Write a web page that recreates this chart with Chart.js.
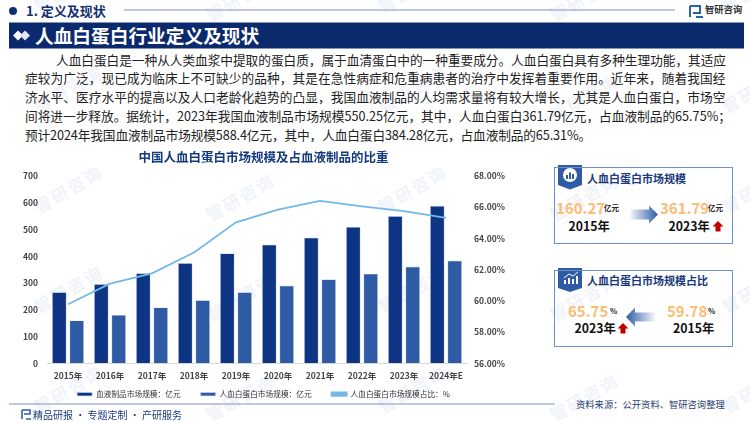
<!DOCTYPE html>
<html lang="zh"><head><meta charset="utf-8">
<script src="https://cdn.jsdelivr.net/npm/chart.js@4"></script>
<style>
html,body{margin:0;padding:0;background:#fff;}
body{width:750px;height:421px;position:relative;overflow:hidden;font-family:"Noto Sans CJK SC","Noto Sans",sans-serif;}
.a{position:absolute;white-space:nowrap;line-height:1;}
.wm{position:absolute;color:#f0f3f9;font-size:17px;font-weight:700;letter-spacing:2px;transform:rotate(-30deg);white-space:nowrap;line-height:1;}
.b{font-weight:700;}
.panel{position:absolute;left:554px;width:177px;border:1.5px solid #6e8fc8;background:transparent;}
.o{color:#fbbc73;font-weight:700;font-size:15px;}
.k{color:#111;font-weight:700;font-size:12.3px;}
.u{color:#222;font-weight:700;font-size:7.5px;}
.pt{color:#1b3a7c;font-weight:700;font-size:11px;}
#cw{position:absolute;left:0;top:150px;width:527px;height:258px;}
</style></head><body>
<div id="wms"></div>

<svg class="a" style="left:0;top:0" width="750" height="421" xmlns="http://www.w3.org/2000/svg">
 <defs>
  <linearGradient id="gr" x1="0" x2="1"><stop offset="0" stop-color="#2f5ba5" stop-opacity=".05"/><stop offset="1" stop-color="#2f5ba5"/></linearGradient>
  <linearGradient id="gl" x1="1" x2="0"><stop offset="0" stop-color="#2f5ba5" stop-opacity=".05"/><stop offset="1" stop-color="#2f5ba5"/></linearGradient>
 </defs>
 <circle cx="13" cy="11" r="4" fill="#0f2f74"/>
 <line x1="124" x2="675" y1="10" y2="10" stroke="#7f95c4" stroke-width="1"/>
 <rect x="9" y="22.5" width="735" height="26" fill="#0b2a6d"/>
 <path d="M13 35.5l5-5 5 5-5 5z" fill="#fff"/><path d="M20 35.5l5-5 5 5-5 5z" fill="#dfe5f0"/>
 <path d="M690 6h10v7h-7M690 6v11M696 17h7" fill="none" stroke="#2a62b0" stroke-width="2"/>
 <line x1="9" x2="555" y1="404" y2="404" stroke="#7f95c4" stroke-width="1"/>
 <path d="M22 410h8v4h-6M22 410v9M26 419h5" fill="none" stroke="#2a62b0" stroke-width="1.6"/>
 <path d="M558 165h24v20l-12 4.500-12-4.500z" fill="#2f5ba5"/>
 <circle cx="570" cy="175" r="7" fill="#fff"/><rect x="566" y="175" width="2" height="4" fill="#2f5ba5"/><rect x="569" y="172.500" width="2" height="6.500" fill="#2f5ba5"/><rect x="572" y="174" width="2" height="5" fill="#2f5ba5"/>
 <path d="M558 268h24v20l-12 4-12-4z" fill="#2f5ba5"/>
 <path d="M564 284v-4h2v4zM568 284v-6h2v6zM572 284v-5h2v5zM576 284v-8h2v8z" fill="#fff"/><path d="M564 278l5-4 4 2 5-4" fill="none" stroke="#fff"/>
 <path d="M630 209.500h19v-4l9 9-9 9v-4h-19z" fill="url(#gr)"/>
 <path d="M655 312.500h-20v-5l-9 9.500 9 9.500v-5h20z" fill="url(#gl)"/>
 <path d="M718 221l5.500 5.500h-3v5h-5v-5h-3z" fill="#c00000"/>
 <path d="M623 323l5.500 5.500h-3v5h-5v-5h-3z" fill="#c00000"/>
</svg>

<div class="a b" style="left:26px;top:4px;font-size:13px;color:#14306f;">1. 定义及现状</div>
<div class="a b" style="left:35px;top:26px;font-size:18.700px;color:#fff;">人血白蛋白行业定义及现状</div>
<div class="a b" style="left:705px;top:5px;font-size:9.300px;color:#333;">智研咨询</div>
<div id="body"></div>

<div id="cw"><canvas id="c"></canvas></div>

<div class="panel" style="top:166.500px;height:75px;"></div>
<div class="panel" style="top:269.500px;height:75px;"></div>
<div class="a pt" style="left:587px;top:172.500px;">人血白蛋白市场规模</div>
<div class="a o" style="left:556px;top:199.500px;">160.27</div>
<div class="a u" style="left:604px;top:204px;">亿元</div>
<div class="a k" style="left:568.500px;top:220px;">2015年</div>
<div class="a o" style="left:660px;top:199.500px;">361.79</div>
<div class="a u" style="left:708px;top:204px;">亿元</div>
<div class="a k" style="left:668.500px;top:220px;">2023年</div>
<div class="a pt" style="left:587px;top:274.500px;">人血白蛋白市场规模占比</div>
<div class="a o" style="left:568px;top:302.500px;">65.75</div>
<div class="a u" style="left:610px;top:307px;">%</div>
<div class="a k" style="left:574.500px;top:322px;">2023年</div>
<div class="a o" style="left:667px;top:302.500px;">59.78</div>
<div class="a u" style="left:708px;top:307px;">%</div>
<div class="a k" style="left:673px;top:322px;">2015年</div>
<div class="a" style="left:33px;top:410px;font-size:10px;color:#1b3a7c;">精品研报 · 专题定制 · 产研服务</div>
<div class="a" style="left:576px;top:399.500px;font-size:9.300px;color:#2a3f70;">资料来源：公开资料、智研咨询整理</div>

<script>
const categories=['2015年','2016年','2017年','2018年','2019年','2020年','2021年','2022年','2023年','2024年E'];
const bloodProducts=[266,296,337,375,411,444,470,510,550.25,588.4];
const albumin=[160.27,181,209,236,266,291,314,335,361.79,384.28];
const albuminShare=[59.78,61.1,61.76,63.1,65.03,65.85,66.41,66.06,65.75,65.31];
const seriesNames=['血液制品市场规模：亿元','人血白蛋白市场规模：亿元','人血白蛋白市场规模占比：%'];
const chartTitle='中国人血白蛋白市场规模及占血液制品的比重';
const bodyLines=[
 ['人血白蛋白是一种从人类血浆中提取的蛋白质，属于血清蛋白中的一种重要成分。人血白蛋白具有多种生理功能，其适应',56,670],
 ['症较为广泛，现已成为临床上不可缺少的品种，其是在急性病症和危重病患者的治疗中发挥着重要作用。近年来，随着我国经',25,700.5],
 ['济水平、医疗水平的提高以及人口老龄化趋势的凸显，我国血液制品的人均需求量将有较大增长，尤其是人血白蛋白，市场空',25,700.5],
 ['间将进一步释放。据统计，2023年我国血液制品市场规模550.25亿元，其中，人血白蛋白361.79亿元，占血液制品的65.75%；',25,706],
 ['预计2024年我国血液制品市场规模588.4亿元，其中，人血白蛋白384.28亿元，占血液制品的65.31%。',25,566]
];
const bodyHost=document.getElementById('body');
bodyLines.forEach((l,i)=>{
  const d=document.createElement('div');d.className='a';d.textContent=l[0];
  d.style.cssText=`left:${l[1]}px;top:${53.5+i*18.75}px;font-size:12.7px;color:#222;`;
  bodyHost.appendChild(d);
  const w=d.getBoundingClientRect().width;
  const n=[...l[0]].length;
  d.style.letterSpacing=((l[2]-w)/n)+'px';
});
const wmHost=document.getElementById('wms');
[30,202,374,546,718].forEach(x=>{[-20,80,180,280,380].forEach(y=>{
  const s=document.createElement('div');s.className='wm';s.textContent='智研咨询';
  s.style.left=x+'px';s.style.top=(y+(x%344>200?8:0))+'px';wmHost.appendChild(s);
});});

new Chart(document.getElementById('c'),{
 data:{labels:categories,datasets:[
  {type:'line',label:seriesNames[2],data:albuminShare,yAxisID:'y2',borderColor:'#74b9e6',backgroundColor:'#74b9e6',borderWidth:1.8,pointRadius:0,tension:0,order:0},
  {type:'bar',label:seriesNames[0],data:bloodProducts,yAxisID:'y',backgroundColor:'#0d3583',borderColor:'#c4d4ee',borderWidth:0.7,categoryPercentage:.83,barPercentage:.84,order:1},
  {type:'bar',label:seriesNames[1],data:albumin,yAxisID:'y',backgroundColor:'#2f5ba5',borderColor:'#c4d4ee',borderWidth:0.7,categoryPercentage:.83,barPercentage:.84,order:2}
 ]},
 options:{
  responsive:true,maintainAspectRatio:false,animation:false,
  layout:{autoPadding:false,padding:0},
  plugins:{
   title:{display:true,text:chartTitle,color:'#143a80',font:{size:12.5,weight:'700',family:'"Noto Sans CJK SC"'},padding:{top:0,bottom:11}},
   tooltip:{enabled:false},
   legend:{position:'bottom',
    labels:{boxWidth:15,boxHeight:3.5,padding:20,color:'#333',font:{size:7.7,family:'"Noto Sans CJK SC"'},
     sort:(a,b)=>[1,2,0].indexOf(a.datasetIndex)-[1,2,0].indexOf(b.datasetIndex)}}
  },
  scales:{
   x:{grid:{display:false,drawTicks:false},border:{color:'#d9d9d9'},
      ticks:{mirror:true,color:'#444',padding:-18,maxRotation:0,autoSkip:false,font:{size:8.5,weight:'700',family:'"Noto Sans CJK SC"'}},
      afterFit(s){s.height=7;}},
   y:{position:'left',min:0,max:700,grid:{display:false,drawTicks:false},border:{display:false},
      ticks:{stepSize:100,color:'#444',padding:9,font:{size:8.5,weight:'700',family:'"Noto Sans CJK SC"'}},
      afterFit(s){s.width=47;}},
   y2:{position:'right',min:56,max:68,grid:{display:false,drawTicks:false},border:{display:false},
      ticks:{stepSize:2,color:'#444',padding:7,callback:v=>v.toFixed(2)+'%',font:{size:8.5,weight:'700',family:'"Noto Sans CJK SC"'}},
      afterFit(s){s.width=60;}}
  }
 }
});
</script>
</body></html>
